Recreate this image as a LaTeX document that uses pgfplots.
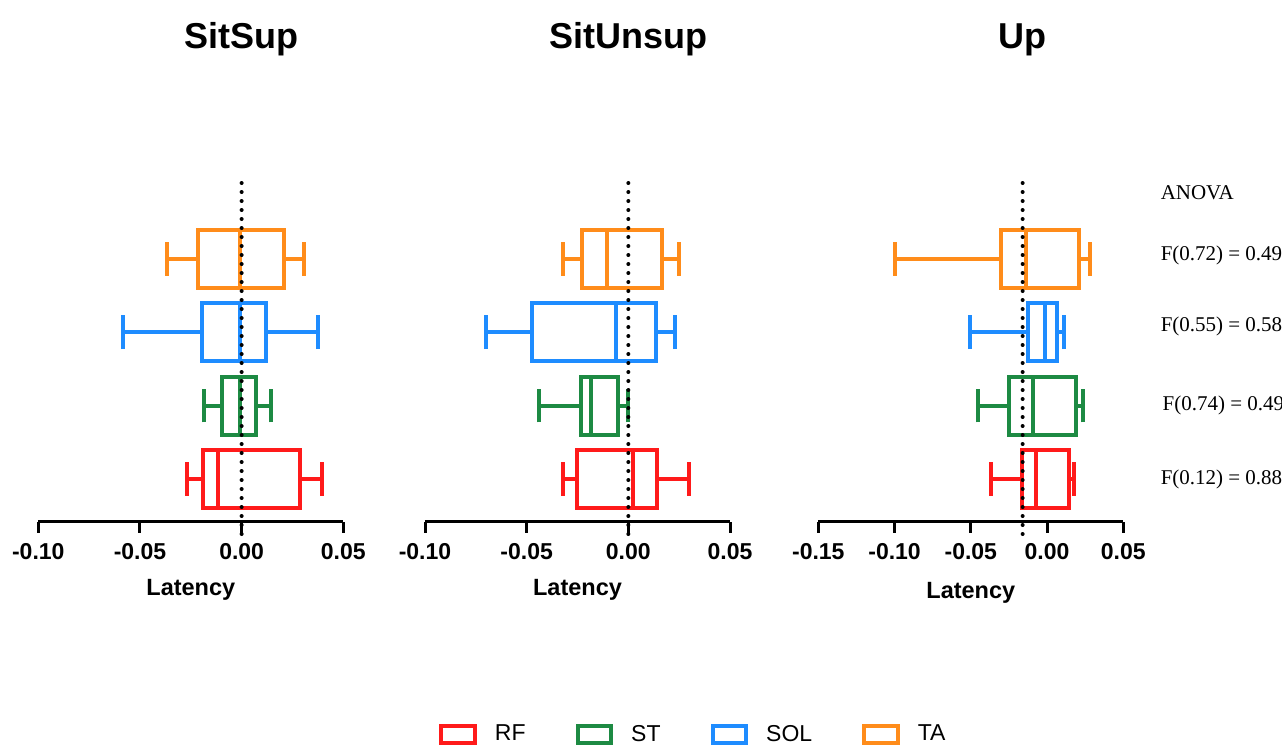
\documentclass[border=0pt]{standalone}
\usepackage{fontspec}
\setmainfont{Liberation Sans}
\newfontfamily\seriffont{Liberation Serif}
\usepackage{pgfplots}
\usepgfplotslibrary{statistics}
\pgfplotsset{compat=1.18}

\definecolor{cRF}{HTML}{FF1A1A}
\definecolor{cST}{HTML}{1D8A43}
\definecolor{cSOL}{HTML}{1E8CFF}
\definecolor{cTA}{HTML}{FF8C1A}

\tikzset{
  ttl/.style={anchor=base, font=\fontsize{18}{20}\selectfont\bfseries},
  anv/.style={anchor=west, inner sep=0pt, font=\seriffont\fontsize{10.5}{12}\selectfont},
}
\pgfplotsset{
  panel/.style={
    scale only axis, width=152.5pt, height=172.85pt,
    ymin=0.418, ymax=5.13,
    axis x line*=bottom, axis y line=none,
    axis line style={line width=1.5pt, black},
    tick align=outside, major tick length=5.5pt,
    xtick style={line width=1.5pt, black},
    xticklabel style={font=\fontsize{11.5}{13}\selectfont\bfseries, yshift=-2pt},
    xlabel={Latency},
    xlabel style={font=\fontsize{11.75}{13}\selectfont\bfseries,
      at={(axis description cs:0.5,0)}, anchor=base, yshift=-37pt},
    clip=false,
    boxplot/draw direction=x,
    boxplot/box extend=0.79,
    boxplot/whisker extend=0.46,
  },
  bx/.style={draw=#1, line width=2pt, solid, mark=none, forget plot},
  refline/.style={black, line width=2pt, line cap=round, dash pattern=on 0pt off 4.5pt, forget plot},
  legbox/.style={draw=#1, line width=2pt,
    legend image code/.code={\draw[##1] (0pt,-4.1pt) rectangle (16.8pt,4.1pt);}},
}

\begin{document}
\begin{tikzpicture}
\path[use as bounding box] (0,0) rectangle (641pt,373.5pt);

% SitSup
\begin{axis}[panel, at={(19.15pt,112.65pt)}, anchor=south west,
    xmin=-0.10, xmax=0.05,
    xtick={-0.10,-0.05,0,0.05},
    xticklabels={-0.10,-0.05,0.00,0.05}]
  \addplot[bx=cRF, boxplot prepared={draw position=1, lower whisker=-0.0269,
    lower quartile=-0.0190, median=-0.0118, upper quartile=0.0287, upper whisker=0.0394}]
    coordinates {};
  \addplot[bx=cST, boxplot prepared={draw position=2, lower whisker=-0.0187,
    lower quartile=-0.0097, median=-0.0007, upper quartile=0.0070, upper whisker=0.0144}]
    coordinates {};
  \addplot[bx=cSOL, boxplot prepared={draw position=3, lower whisker=-0.0585,
    lower quartile=-0.0195, median=-0.0007, upper quartile=0.0120, upper whisker=0.0374}]
    coordinates {};
  \addplot[bx=cTA, boxplot prepared={draw position=4, lower whisker=-0.0369,
    lower quartile=-0.0215, median=-0.0007, upper quartile=0.0207, upper whisker=0.0305}]
    coordinates {};
  \addplot[refline] coordinates {(0,0.25) (0,5.13)};
  \node[ttl] at (axis cs:0,6.87) {SitSup};
\end{axis}

% SitUnsup
\begin{axis}[panel, at={(212.5pt,112.65pt)}, anchor=south west,
    xmin=-0.10, xmax=0.05,
    xtick={-0.10,-0.05,0,0.05},
    xticklabels={-0.10,-0.05,0.00,0.05},
    legend columns=4,
    legend style={at={(axis description cs:0.047,-0.6156)}, anchor=west,
      draw=none, fill=none, inner sep=0pt, outer sep=0pt,
      font=\fontsize{11.5}{14}\selectfont,
      nodes={inner sep=0pt},
      /tikz/every odd column/.append style={column sep=9pt},
      /tikz/every even column/.append style={column sep=25pt}}]
  \addlegendimage{legbox=cRF}\addlegendentry{RF}
  \addlegendimage{legbox=cST}\addlegendentry{ST}
  \addlegendimage{legbox=cSOL}\addlegendentry{SOL}
  \addlegendimage{legbox=cTA}\addlegendentry{TA}
  \addplot[bx=cRF, boxplot prepared={draw position=1, lower whisker=-0.0320,
    lower quartile=-0.0251, median=0.0025, upper quartile=0.0140, upper whisker=0.0299}]
    coordinates {};
  \addplot[bx=cST, boxplot prepared={draw position=2, lower whisker=-0.0439,
    lower quartile=-0.0233, median=-0.0184, upper quartile=-0.0049, upper whisker=-0.0003}]
    coordinates {};
  \addplot[bx=cSOL, boxplot prepared={draw position=3, lower whisker=-0.0700,
    lower quartile=-0.0475, median=-0.0062, upper quartile=0.0135, upper whisker=0.0230}]
    coordinates {};
  \addplot[bx=cTA, boxplot prepared={draw position=4, lower whisker=-0.0320,
    lower quartile=-0.0229, median=-0.0106, upper quartile=0.0167, upper whisker=0.0251}]
    coordinates {};
  \addplot[refline] coordinates {(0,0.25) (0,5.13)};
  \node[ttl] at (axis cs:0,6.87) {SitUnsup};
\end{axis}

% Up
\begin{axis}[panel, at={(409.15pt,112.65pt)}, anchor=south west,
    xmin=-0.15, xmax=0.05,
    xtick={-0.15,-0.10,-0.05,0,0.05},
    xticklabels={-0.15,-0.10,-0.05,0.00,0.05},
    xlabel style={yshift=-1.5pt}]
  \addplot[bx=cRF, boxplot prepared={draw position=1, lower whisker=-0.0367,
    lower quartile=-0.0164, median=-0.0072, upper quartile=0.0142, upper whisker=0.0175}]
    coordinates {};
  \addplot[bx=cST, boxplot prepared={draw position=2, lower whisker=-0.0455,
    lower quartile=-0.0252, median=-0.0094, upper quartile=0.0190, upper whisker=0.0236}]
    coordinates {};
  \addplot[bx=cSOL, boxplot prepared={draw position=3, lower whisker=-0.0507,
    lower quartile=-0.0127, median=-0.0011, upper quartile=0.0066, upper whisker=0.0114}]
    coordinates {};
  \addplot[bx=cTA, boxplot prepared={draw position=4, lower whisker=-0.0999,
    lower quartile=-0.0302, median=-0.0138, upper quartile=0.0212, upper whisker=0.0284}]
    coordinates {};
  \addplot[refline] coordinates {(-0.016,0.25) (-0.016,5.13)};
  \node[ttl] at (axis cs:-0.016,6.87) {Up};
  \node[anv] at (axis cs:0.0743,4.90) {ANOVA};
  \node[anv] at (axis cs:0.0743,4.05) {F(0.72) = 0.49};
  \node[anv] at (axis cs:0.0743,3.08) {F(0.55) = 0.58};
  \node[anv] at (axis cs:0.0756,2.00) {F(0.74) = 0.49};
  \node[anv] at (axis cs:0.0743,1.00) {F(0.12) = 0.88};
\end{axis}
\end{tikzpicture}
\end{document}
